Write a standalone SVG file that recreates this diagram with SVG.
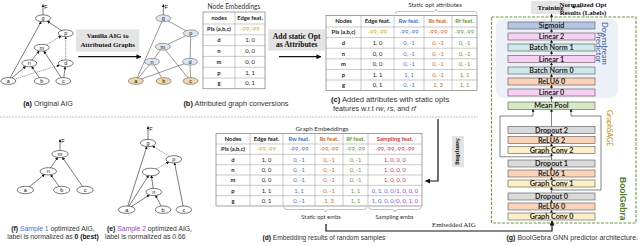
<svg xmlns="http://www.w3.org/2000/svg" width="640" height="246" viewBox="0 0 640 246">
<defs>
<marker id="ah" viewBox="0 0 6 6" refX="5.5" refY="3" markerWidth="3" markerHeight="3" orient="auto" markerUnits="userSpaceOnUse"><path d="M0,0 L6,3 L0,6 z" fill="#111"/></marker>
<marker id="ab" viewBox="0 0 6 6" refX="5.5" refY="3" markerWidth="5" markerHeight="5" orient="auto" markerUnits="userSpaceOnUse"><path d="M0,0 L6,3 L0,6 z" fill="#111"/></marker>
</defs>
<style>
.nw{fill:#fff;stroke:#222;stroke-width:0.6}
.nb{fill:#dce6f4;stroke:#666;stroke-width:0.6}
.nl{fill:#f0d6a8;stroke:#666;stroke-width:0.6}
.nt{font-family:"Liberation Sans",Arial,sans-serif;font-size:5.5px;text-anchor:middle;fill:#111}
.e{stroke:#222;stroke-width:0.6;fill:none;marker-end:url(#ah)}
.ed{stroke:#555;stroke-width:0.6;fill:none;stroke-dasharray:1.2 0.8;marker-end:url(#ah)}
.ep{stroke:#555;stroke-width:0.6;fill:none}
.thick{stroke:#111;stroke-width:1.2;fill:none;marker-end:url(#ab)}
.thin{stroke:#444;stroke-width:0.7;fill:none}
.la{stroke:#333;stroke-width:0.6;fill:none;marker-end:url(#ah)}
.cap{font-family:"Liberation Sans",Arial,sans-serif;fill:#333}
.b{font-weight:bold;fill:#111}
.tb{fill:#fff;stroke:#666;stroke-width:0.6}
.tl{stroke:#888;stroke-width:0.45}
.tt{font-family:Lato,"Open Sans",sans-serif;font-size:5.8px;text-anchor:middle;fill:#222}
.th{font-weight:bold}
.gold{fill:#d2a22a}.blue{fill:#4472c4}.org{fill:#d06a2a}.grn{fill:#6a9a3a}.red{fill:#d03a3a}.s1{fill:#4f6fd0}.s2{fill:#9b3fc6}
.gbox{fill:#e4e4e4}
.gtxt{font-family:"Liberation Serif","Times New Roman",serif;font-weight:bold;text-anchor:middle;fill:#111}
.ly{stroke:#555;stroke-width:0.6}
.lt{font-family:Lato,"Open Sans",sans-serif;font-weight:bold;font-size:7.2px;text-anchor:middle;fill:#222}
.brace{stroke:#999;stroke-width:0.6;fill:none}
.bl{font-family:Lato,"Open Sans",sans-serif;fill:#333}
</style>

<rect x="496" y="19" width="122" height="79" rx="8" fill="#eef0f8"/>
<line x1="0" y1="117" x2="478" y2="117" stroke="#999" stroke-width="0.6" stroke-dasharray="2 1"/>
<rect x="491.5" y="17" width="144.5" height="206" fill="none" stroke="#6a9a3a" stroke-width="1.1" stroke-dasharray="3 1.5"/>

<g id="connectors">
 <!-- graph a -->
 <line class="e" x1="8.3" y1="81" x2="41.2" y2="21.6"/>
 <line class="e" x1="65.7" y1="33.3" x2="47.2" y2="21.1"/>
 <line class="ed" x1="41.7" y1="47.7" x2="61.2" y2="36"/>
 <line class="ed" x1="65.7" y1="63.3" x2="65.7" y2="36.7"/>
 <line class="e" x1="29.3" y1="63.3" x2="39.2" y2="50.9"/>
 <line class="e" x1="63.3" y1="81" x2="43.8" y2="51"/>
 <line class="e" x1="8.3" y1="81" x2="25.8" y2="66.3"/>
 <line class="e" x1="41.7" y1="81" x2="31.6" y2="66.5"/>
 <line class="ed" x1="8.3" y1="81" x2="59.5" y2="65.2"/>
 <line class="e" x1="63.3" y1="81" x2="65.2" y2="66.7"/>
 <line class="e" x1="43" y1="15" x2="43" y2="4.5"/>
 <!-- graph b -->
 <line class="ep" x1="135.8" y1="81" x2="163.3" y2="18.3"/>
 <line class="ep" x1="190.8" y1="33.3" x2="163.3" y2="18.3"/>
 <line class="ep" x1="162.8" y1="46.7" x2="190.8" y2="33.3"/>
 <line class="ep" x1="190" y1="61.7" x2="190.8" y2="33.3"/>
 <line class="ep" x1="152" y1="61.7" x2="162.8" y2="46.7"/>
 <line class="ep" x1="190.5" y1="81" x2="162.8" y2="46.7"/>
 <line class="ep" x1="135.8" y1="81" x2="152" y2="61.7"/>
 <line class="ep" x1="163.7" y1="81" x2="152" y2="61.7"/>
 <line class="ep" x1="135.8" y1="81" x2="190" y2="61.7"/>
 <line class="ep" x1="190.5" y1="81" x2="190" y2="61.7"/>
 <line class="e" x1="163.3" y1="15" x2="163.3" y2="4.5"/>
 <!-- graph e -->
 <line class="e" x1="126.7" y1="209.7" x2="146.9" y2="146.4"/>
 <line class="ed" x1="173.8" y1="159.3" x2="152.4" y2="145.8"/>
 <line class="ed" x1="150.8" y1="172" x2="169" y2="161.9"/>
 <line class="e" x1="183.8" y1="209.7" x2="174.5" y2="162.7"/>
 <line class="e" x1="126.7" y1="209.7" x2="148.7" y2="175.3"/>
 <line class="e" x1="153.8" y1="192" x2="151.3" y2="175.4"/>
 <line class="e" x1="126.7" y1="209.7" x2="149.5" y2="194.8"/>
 <line class="e" x1="163" y1="209.7" x2="155.5" y2="195.3"/>
 <line class="e" x1="148" y1="139.6" x2="148" y2="126.5"/>
 <!-- graph f -->
 <line class="e" x1="48.3" y1="171.3" x2="57.8" y2="157.3"/>
 <line class="e" x1="85" y1="190" x2="62.3" y2="157.2"/>
 <line class="e" x1="25.3" y1="190" x2="44.7" y2="174.3"/>
 <line class="e" x1="61.7" y1="190" x2="50.6" y2="174.5"/>
 <line class="e" x1="60" y1="150.6" x2="60" y2="139.5"/>
 <!-- big arrows -->
 <line class="thick" x1="78.3" y1="56.7" x2="141" y2="56.7"/>
 <line class="thick" x1="279" y1="56.7" x2="321" y2="56.7"/>
 <polyline class="thick" points="438,119 438,181 425.5,181"/>
 <polyline class="thick" points="326,224 326,231 552,231 552,221"/>
 <!-- predictor arrows -->
 <line class="la" x1="551.5" y1="22" x2="551.5" y2="14"/>
 <line class="la" x1="582" y1="7" x2="572" y2="7"/>
 <line class="la" x1="551.5" y1="33" x2="551.5" y2="29"/>
 <line class="la" x1="551.5" y1="44" x2="551.5" y2="40"/>
 <line class="la" x1="551.5" y1="55.5" x2="551.5" y2="51"/>
 <line class="la" x1="551.5" y1="67" x2="551.5" y2="62.5"/>
 <line class="la" x1="551.5" y1="78" x2="551.5" y2="74"/>
 <line class="la" x1="551.5" y1="89" x2="551.5" y2="85"/>
 <line class="la" x1="551.5" y1="102" x2="551.5" y2="96"/>
 <line class="la" x1="551.5" y1="126.5" x2="551.5" y2="109"/>
 <line class="la" x1="551.5" y1="136.5" x2="551.5" y2="133.5"/>
 <line class="la" x1="551.5" y1="146.5" x2="551.5" y2="143.5"/>
 <line class="la" x1="551.5" y1="160" x2="551.5" y2="153.5"/>
 <line class="la" x1="551.5" y1="170" x2="551.5" y2="167"/>
 <line class="la" x1="551.5" y1="180" x2="551.5" y2="177"/>
 <line class="la" x1="551.5" y1="193" x2="551.5" y2="187"/>
 <line class="la" x1="551.5" y1="203" x2="551.5" y2="200"/>
 <line class="la" x1="551.5" y1="213" x2="551.5" y2="210"/>
 <polyline class="la" points="551.5,156.8 500,156.8 500,116 533,116 533,109"/>
 <polyline class="la" points="551.5,190 601,190 601,116 571,116 571,109"/>
</g>

<g id="graph-a">
 <g id="a-g"><ellipse class="nw" cx="43" cy="18.3" rx="7.5" ry="3.4"/><text class="nt" x="43" y="20.1">g</text></g>
 <g id="a-p"><ellipse class="nw" cx="65.7" cy="33.3" rx="7.5" ry="3.4"/><text class="nt" x="65.7" y="35.1">p</text></g>
 <g id="a-m"><ellipse class="nw" cx="41.7" cy="47.7" rx="7.5" ry="3.4"/><text class="nt" x="41.7" y="49.5">m</text></g>
 <g id="a-n"><ellipse class="nw" cx="29.3" cy="63.3" rx="7.5" ry="3.4"/><text class="nt" x="29.3" y="65.1">n</text></g>
 <g id="a-d"><ellipse class="nw" cx="65.7" cy="63.3" rx="7.5" ry="3.4"/><text class="nt" x="65.7" y="65.1">d</text></g>
 <g id="a-a"><ellipse class="nw" cx="8.3" cy="81" rx="7.5" ry="3.4"/><text class="nt" x="8.3" y="82.8">a</text></g>
 <g id="a-b"><ellipse class="nw" cx="41.7" cy="81" rx="7.5" ry="3.4"/><text class="nt" x="41.7" y="82.8">b</text></g>
 <g id="a-c"><ellipse class="nw" cx="63.3" cy="81" rx="7.5" ry="3.4"/><text class="nt" x="63.3" y="82.8">c</text></g>
 <text class="nt" x="46" y="8.5">F</text>
</g>

<g id="graph-b">
 <g id="b-g"><ellipse class="nb" cx="163.3" cy="18.3" rx="7.5" ry="3.4"/><text class="nt" x="163.3" y="20.1">g</text></g>
 <g id="b-p"><ellipse class="nb" cx="190.8" cy="33.3" rx="7.5" ry="3.4"/><text class="nt" x="190.8" y="35.1">p</text></g>
 <g id="b-m"><ellipse class="nb" cx="162.8" cy="46.7" rx="7.5" ry="3.4"/><text class="nt" x="162.8" y="48.5">m</text></g>
 <g id="b-n"><ellipse class="nb" cx="152" cy="61.7" rx="7.5" ry="3.4"/><text class="nt" x="152" y="63.5">n</text></g>
 <g id="b-d"><ellipse class="nb" cx="190" cy="61.7" rx="7.5" ry="3.4"/><text class="nt" x="190" y="63.5">d</text></g>
 <g id="b-a"><ellipse class="nl" cx="135.8" cy="81" rx="7.5" ry="3.4"/><text class="nt" x="135.8" y="82.8">a</text></g>
 <g id="b-b"><ellipse class="nl" cx="163.7" cy="81" rx="7.5" ry="3.4"/><text class="nt" x="163.7" y="82.8">b</text></g>
 <g id="b-c"><ellipse class="nl" cx="190.5" cy="81" rx="7.5" ry="3.4"/><text class="nt" x="190.5" y="82.8">c</text></g>
 <text class="nt" x="166.3" y="8.5">F</text>
</g>

<g id="graph-e">
 <g id="e-g"><ellipse class="nw" cx="148" cy="143" rx="7.8" ry="3.6"/><text class="nt" x="148" y="144.8">g</text></g>
 <g id="e-p"><ellipse class="nw" cx="173.8" cy="159.3" rx="7.8" ry="3.6"/><text class="nt" x="173.8" y="161.1">p</text></g>
 <g id="e-m"><ellipse class="nw" cx="150.8" cy="172" rx="8.5" ry="3.8"/></g>
 <g id="e-n"><ellipse class="nw" cx="153.8" cy="192" rx="7.8" ry="3.6"/><text class="nt" x="153.8" y="193.8">n</text></g>
 <g id="e-a"><ellipse class="nw" cx="126.7" cy="209.7" rx="8.2" ry="3.7"/><text class="nt" x="126.7" y="211.5">a</text></g>
 <g id="e-b"><ellipse class="nw" cx="163" cy="209.7" rx="7.8" ry="3.7"/><text class="nt" x="163" y="211.5">b</text></g>
 <g id="e-c"><ellipse class="nw" cx="183.8" cy="209.7" rx="7.8" ry="3.7"/><text class="nt" x="183.8" y="211.5">c</text></g>
 <text class="nt" x="151" y="131">F</text>
</g>

<g id="graph-f">
 <g id="f-m"><ellipse class="nw" cx="60" cy="154" rx="8.2" ry="3.5"/><text class="nt" x="60" y="155.8">m</text></g>
 <g id="f-n"><ellipse class="nw" cx="48.3" cy="171.3" rx="8.2" ry="3.6"/><text class="nt" x="48.3" y="173.1">n</text></g>
 <g id="f-a"><ellipse class="nw" cx="25.3" cy="190" rx="8.2" ry="3.7"/><text class="nt" x="25.3" y="191.8">a</text></g>
 <g id="f-b"><ellipse class="nw" cx="61.7" cy="190" rx="8.2" ry="3.7"/><text class="nt" x="61.7" y="191.8">b</text></g>
 <g id="f-c"><ellipse class="nw" cx="85" cy="190" rx="8.2" ry="3.7"/><text class="nt" x="85" y="191.8">c</text></g>
 <text class="nt" x="63" y="143">F</text>
</g>

<g id="label-vanilla">
 <rect class="gbox" x="76" y="29.3" width="63.3" height="22.4"/>
 <text class="gtxt" x="107.7" y="37.6" font-size="6.8">Vanilla AIG to</text>
 <text class="gtxt" x="107.7" y="47.3" font-size="6.8">Attributed Graphs</text>
</g>
<g id="label-add">
 <rect class="gbox" x="268.3" y="29.3" width="56.7" height="21.4"/>
 <text class="gtxt" x="296.7" y="38.6" font-size="7.6">Add static Opt</text>
 <text class="gtxt" x="296.7" y="47" font-size="7.6">as Attributes</text>
</g>

<g id="table-b">
 <text class="bl" x="234" y="8.8" font-size="6.6" text-anchor="middle">Node Embeddings</text>
 <rect class="tb" x="203" y="12" width="62" height="76.8"/>
 <path class="tl" d="M203,24H265M203,34.8H265M203,45.6H265M203,56.4H265M203,67.2H265M203,78H265M235,12V88.8"/>
 <g class="tt">
  <text class="th" x="219" y="20">nodes</text><text class="th" x="250" y="20">Edge feat.</text>
  <text class="th" x="219" y="31.4">PIs (a,b,c)</text><text class="gold" x="250" y="31.4">-99,-99</text>
  <text class="th" x="219" y="42.2">d</text><text x="250" y="42.2">1, 0</text>
  <text class="th" x="219" y="53">n</text><text x="250" y="53">0, 0</text>
  <text class="th" x="219" y="63.8">m</text><text x="250" y="63.8">0, 0</text>
  <text class="th" x="219" y="74.6">p</text><text x="250" y="74.6">1, 1</text>
  <text class="th" x="219" y="85.4">g</text><text x="250" y="85.4">0, 1</text>
 </g>
</g>

<g id="table-c">
 <text class="bl" x="435" y="7" font-size="6.2" text-anchor="middle">Static opt attributes</text>
 <path class="brace" d="M395,14 Q395,11.5 398,11.5 L433,11.5 Q436,11.5 436,9 Q436,11.5 439,11.5 L474,11.5 Q477,11.5 477,14"/>
 <rect class="tb" x="326" y="15.3" width="151" height="75.3"/>
 <path class="tl" d="M326,27H477M326,37.6H477M326,48.2H477M326,58.8H477M326,69.4H477M326,80H477M361,15.3V90.6M394,15.3V90.6M424,15.3V90.6M452,15.3V90.6"/>
 <g class="tt">
  <text class="th" x="343.5" y="23.2">Nodes</text><text class="th" x="377.5" y="23.2">Edge feat.</text><text class="th blue" x="409" y="23.2">Rw feat.</text><text class="th org" x="438" y="23.2">Rs feat.</text><text class="th grn" x="464.5" y="23.2">Rf feat.</text>
  <text class="th" x="343.5" y="34.3">PIs (a,b,c)</text><text class="gold" x="377.5" y="34.3">-99,-99</text><text class="blue" x="409" y="34.3">-99,-99</text><text class="org" x="438" y="34.3">-99,-99</text><text class="grn" x="464.5" y="34.3">-99,-99</text>
  <text class="th" x="343.5" y="44.9">d</text><text x="377.5" y="44.9">1, 0</text><text class="blue" x="409" y="44.9">0, -1</text><text class="org" x="438" y="44.9">0, -1</text><text class="grn" x="464.5" y="44.9">0, -1</text>
  <text class="th" x="343.5" y="55.5">n</text><text x="377.5" y="55.5">0, 0</text><text class="blue" x="409" y="55.5">0, -1</text><text class="org" x="438" y="55.5">0, -1</text><text class="grn" x="464.5" y="55.5">0, -1</text>
  <text class="th" x="343.5" y="66.1">m</text><text x="377.5" y="66.1">0, 0</text><text class="blue" x="409" y="66.1">0, -1</text><text class="org" x="438" y="66.1">0, -1</text><text class="grn" x="464.5" y="66.1">0, -1</text>
  <text class="th" x="343.5" y="76.7">p</text><text x="377.5" y="76.7">1, 1</text><text class="blue" x="409" y="76.7">1, 1</text><text class="org" x="438" y="76.7">0, -1</text><text class="grn" x="464.5" y="76.7">1, 1</text>
  <text class="th" x="343.5" y="87.3">g</text><text x="377.5" y="87.3">0, 1</text><text class="blue" x="409" y="87.3">0, -1</text><text class="org" x="438" y="87.3">1, 3</text><text class="grn" x="464.5" y="87.3">1, 1</text>
 </g>
</g>

<g id="table-d">
 <text class="bl" x="322" y="130.5" font-size="6.4" text-anchor="middle">Graph Embeddings</text>
 <rect class="tb" x="216" y="133.3" width="206" height="72.7"/>
 <path class="tl" d="M216,144H422M216,154.3H422M216,164.7H422M216,175H422M216,185.3H422M216,195.7H422M250,133.3V206M283,133.3V206M315,133.3V206M343,133.3V206M368,133.3V206"/>
 <g class="tt">
  <text class="th" x="233" y="140.7">Nodes</text><text class="th" x="266.5" y="140.7">Edge feat.</text><text class="th blue" x="299" y="140.7">Rw feat.</text><text class="th org" x="329" y="140.7">Rs feat.</text><text class="th grn" x="355.5" y="140.7">Rf feat.</text><text class="th red" x="395" y="140.7">Sampling feat.</text>
  <text class="th" x="233" y="151.2">PIs (a,b,c)</text><text class="gold" x="266.5" y="151.2">-99,-99</text><text class="blue" x="299" y="151.2">-99,-99</text><text class="org" x="329" y="151.2">-99,-99</text><text class="grn" x="355.5" y="151.2">-99,-99</text><text class="red" x="395" y="151.2">-99,-99,-99,-99</text>
  <text class="th" x="233" y="161.5">d</text><text x="266.5" y="161.5">1, 0</text><text class="blue" x="299" y="161.5">0, -1</text><text class="org" x="329" y="161.5">0, -1</text><text class="grn" x="355.5" y="161.5">0, -1</text><text class="red" x="395" y="161.5">1, 0, 0, 0</text>
  <text class="th" x="233" y="171.8">n</text><text x="266.5" y="171.8">0, 0</text><text class="blue" x="299" y="171.8">0, -1</text><text class="org" x="329" y="171.8">0, -1</text><text class="grn" x="355.5" y="171.8">0, -1</text><text class="red" x="395" y="171.8">1, 0, 0, 0</text>
  <text class="th" x="233" y="182.2">m</text><text x="266.5" y="182.2">0, 0</text><text class="blue" x="299" y="182.2">0, -1</text><text class="org" x="329" y="182.2">0, -1</text><text class="grn" x="355.5" y="182.2">0, -1</text><text class="red" x="395" y="182.2">1, 0, 0, 0</text>
  <text class="th" x="233" y="192.5">p</text><text x="266.5" y="192.5">1, 1</text><text class="blue" x="299" y="192.5">1, 1</text><text class="org" x="329" y="192.5">0, -1</text><text class="grn" x="355.5" y="192.5">1, 1</text><text x="395" y="192.5"><tspan class="s1">0, 1, 0, 0</tspan><tspan class="s2">/1, 0, 0, 0</tspan></text>
  <text class="th" x="233" y="202.8">g</text><text x="266.5" y="202.8">0, 1</text><text class="blue" x="299" y="202.8">0, -1</text><text class="org" x="329" y="202.8">1, 3</text><text class="grn" x="355.5" y="202.8">1, 1</text><text x="395" y="202.8"><tspan class="s1">1, 0, 0, 0</tspan><tspan class="s2">/0, 0, 1, 0</tspan></text>
 </g>
 <path class="brace" d="M284,207 Q284,209.5 287,209.5 L322.5,209.5 Q325.5,209.5 325.5,212 Q325.5,209.5 328.5,209.5 L364,209.5 Q367,209.5 367,207"/>
 <path class="brace" d="M369,207 Q369,209.5 372,209.5 L392,209.5 Q395,209.5 395,212 Q395,209.5 398,209.5 L418,209.5 Q421,209.5 421,207"/>
 <text class="bl" x="321" y="219" font-size="5.8" text-anchor="middle">Static opt embs</text>
 <text class="bl" x="394.5" y="219" font-size="5.8" text-anchor="middle">Sampling embs</text>
</g>

<g id="label-sampling">
 <rect class="gbox" x="452" y="136" width="12" height="31"/>
 <text class="gtxt" transform="translate(456,151.5) rotate(90)" font-size="6.6" font-weight="normal">Sampling</text>
</g>
<text x="432" y="226.5" font-family="'Liberation Serif','Times New Roman',serif" font-size="7" fill="#222">Embedded AIG</text>

<g id="training">
 <rect class="gbox" x="531" y="1" width="39" height="13"/>
 <text class="gtxt" x="550.5" y="10" font-size="7">Training</text>
 <text class="gtxt" x="583" y="6.5" font-size="6.8" text-anchor="start">Normalized Opt</text>
 <text class="gtxt" x="583" y="14.5" font-size="6.8" text-anchor="start">Results (Labels)</text>
</g>

<g id="predictor">
 <g id="sigmoid"><rect class="ly" x="508" y="22" width="87" height="7" fill="#b4c6e4"/><text class="lt" x="551.5" y="28.1">Sigmoid</text></g>
 <g id="linear2"><rect class="ly" x="508" y="33" width="87" height="7" fill="#f8d0f4"/><text class="lt" x="551.5" y="39.1">Linear 2</text></g>
 <g id="bn1"><rect class="ly" x="508" y="44" width="87" height="7" fill="#cfe9ea"/><text class="lt" x="551.5" y="50.1">Batch Norm 1</text></g>
 <g id="linear1"><rect class="ly" x="508" y="55.5" width="87" height="7" fill="#f8d0f4"/><text class="lt" x="551.5" y="61.6">Linear 1</text></g>
 <g id="bn0"><rect class="ly" x="508" y="67" width="87" height="7" fill="#cfe9ea"/><text class="lt" x="551.5" y="73.1">Batch Norm 0</text></g>
 <g id="relu-p"><rect class="ly" x="508" y="78" width="87" height="7" fill="#fad3b8"/><text class="lt" x="551.5" y="84.1">ReLU6 0</text></g>
 <g id="linear0"><rect class="ly" x="508" y="89" width="87" height="7" fill="#f8d0f4"/><text class="lt" x="551.5" y="95.1">Linear 0</text></g>
 <text font-family="Lato,'Open Sans',sans-serif" font-size="7.6" fill="#2e5597" transform="translate(602,22) rotate(90)">Downstream</text>
 <text font-family="Lato,'Open Sans',sans-serif" font-size="7.6" fill="#2e5597" transform="translate(595.5,32) rotate(90)">Predictor</text>
</g>

<g id="meanpool"><rect class="ly" x="508" y="102" width="87" height="7.3" fill="#d6e9c6"/><text class="lt" x="551.5" y="108.2">Mean Pool</text></g>

<g id="graphsage">
 <g id="dropout2"><rect class="ly" x="508" y="126.5" width="87" height="7" fill="#dadada"/><text class="lt" x="551.5" y="132.6">Dropout 2</text></g>
 <g id="relu2"><rect class="ly" x="508" y="136.5" width="87" height="7" fill="#fad3b8"/><text class="lt" x="551.5" y="142.6">ReLU6 2</text></g>
 <g id="gc2"><rect class="ly" x="508" y="146.5" width="87" height="7" fill="#fdf0c8"/><text class="lt" x="551.5" y="152.6">Graph Conv 2</text></g>
 <g id="dropout1"><rect class="ly" x="508" y="160" width="87" height="7" fill="#dadada"/><text class="lt" x="551.5" y="166.1">Dropout 1</text></g>
 <g id="relu1"><rect class="ly" x="508" y="170" width="87" height="7" fill="#fad3b8"/><text class="lt" x="551.5" y="176.1">ReLU6 1</text></g>
 <g id="gc1"><rect class="ly" x="508" y="180" width="87" height="7" fill="#fdf0c8"/><text class="lt" x="551.5" y="186.1">Graph Conv 1</text></g>
 <text font-family="Lato,'Open Sans',sans-serif" font-size="7" fill="#bf9000" transform="translate(606.5,110) rotate(90)">GraphSAGE</text>
</g>
<g id="layer0">
 <g id="dropout0"><rect class="ly" x="508" y="193" width="87" height="7" fill="#dadada"/><text class="lt" x="551.5" y="199.1">Dropout 0</text></g>
 <g id="relu0"><rect class="ly" x="508" y="203" width="87" height="7" fill="#fad3b8"/><text class="lt" x="551.5" y="209.1">ReLU6 0</text></g>
 <g id="gc0"><rect class="ly" x="508" y="213" width="87" height="7" fill="#fdf0c8"/><text class="lt" x="551.5" y="219.1">Graph Conv 0</text></g>
</g>
<text font-family="'Liberation Sans',Arial,sans-serif" font-size="8.5" font-weight="bold" fill="#4e7d2a" transform="translate(620,177) rotate(90)">BoolGebra</text>

<g id="captions" class="cap">
 <text x="48" y="105.5" font-size="7.2" text-anchor="middle"><tspan class="b">(a)</tspan> Original AIG</text>
 <text x="236" y="105.5" font-size="7.4" text-anchor="middle"><tspan class="b">(b)</tspan> Attributed graph conversions</text>
 <text x="331" y="102" font-size="7.6"><tspan class="b">(c)</tspan> Added attributes with static opts</text>
 <text x="333" y="110.5" font-size="7.2">features <tspan>w.r.t</tspan> <tspan font-style="italic">rw</tspan>, <tspan font-style="italic">rs</tspan>, and <tspan font-style="italic">rf</tspan></text>
 <text x="324" y="239.8" font-size="6.6" text-anchor="middle"><tspan class="b">(d)</tspan> Embedding results of random samples</text>
 <text x="53" y="230.8" font-size="6.8" text-anchor="middle"><tspan class="b">(f)</tspan> <tspan class="s1">Sample 1</tspan> optimized AIG,</text>
 <text x="53" y="239.2" font-size="6.8" text-anchor="middle">label is normalized as <tspan class="b">0 (best)</tspan></text>
 <text x="107" y="230.8" font-size="6.8"><tspan class="b">(e)</tspan> <tspan class="s2">Sample 2</tspan> optimized AIG,</text>
 <text x="105" y="239.2" font-size="6.8">label is normalized as 0.66</text>
 <text x="638" y="240" font-size="7" text-anchor="end"><tspan class="b">(g)</tspan> BoolGebra GNN predictor architecture.</text>
</g>
</svg>
